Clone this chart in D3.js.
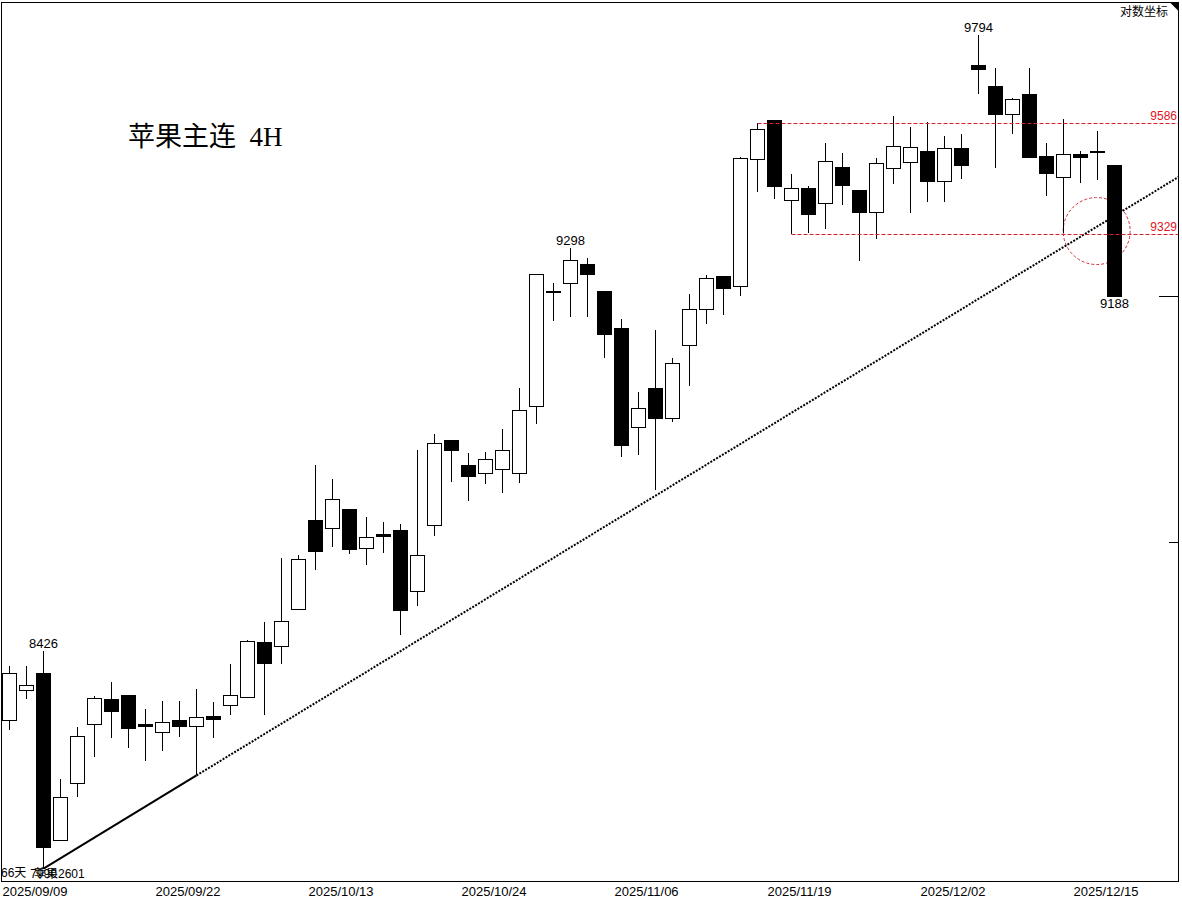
<!DOCTYPE html>
<html>
<head>
<meta charset="utf-8">
<script src="https://cdnjs.cloudflare.com/ajax/libs/d3/7.8.5/d3.min.js"></script>
<style>
  body { margin: 0; background: #fff; }
  svg { display: block; }
</style>
</head>
<body>
<script>
// 苹果主连 4H candles, one entry per bar (66 bars)
var opens  = [8285,8345,8381,8045,8158,8277,8326,8336,8277,8260,8285,8272,8293,8315,8331,8444,8436,8512,8700,8682,
              8723,8640,8670,8677,8549,8688,8870,8816,8800,8808,8800,8944,9200,9217,9261,9200,9117,8899,8984,8919,
              9079,9159,9232,9211,9501,9591,9406,9434,9400,9483,9430,9378,9480,9494,9520,9450,9527,9720,9671,9605,
              9652,9507,9459,9511,9520,9486];
var highs  = [8396,8396,8426,8167,8272,8334,8362,8336,8307,8324,8324,8348,8322,8400,8449,8487,8620,8626,8818,8788,
              8723,8706,8696,8691,8850,8884,8870,8843,8845,8896,8984,9238,9218,9298,9275,9200,9137,8976,9113,9051,
              9194,9236,9235,9506,9586,9591,9467,9440,9539,9516,9430,9504,9603,9577,9587,9556,9560,9794,9716,9644,
              9716,9539,9596,9520,9567,9486];
var lows   = [8266,8328,7990,8045,8131,8211,8249,8229,8203,8223,8251,8174,8249,8296,8331,8296,8400,8512,8594,8643,
              8629,8606,8631,8460,8520,8667,8782,8740,8777,8758,8778,8906,9134,9141,9141,9052,8834,8839,8764,8910,
              8990,9126,9147,9188,9426,9410,9329,9332,9340,9396,9269,9317,9445,9378,9403,9403,9456,9653,9480,9559,
              9505,9417,9331,9446,9453,9188];
var closes = [8380,8356,8031,8130,8252,8329,8302,8268,8272,8281,8272,8291,8287,8335,8446,8400,8487,8617,8633,8744,
              8637,8663,8665,8509,8625,8865,8848,8793,8830,8849,8936,9238,9197,9268,9237,9104,8859,8941,8919,9040,
              9159,9229,9207,9504,9571,9438,9434,9374,9497,9440,9378,9492,9531,9529,9450,9527,9486,9712,9605,9640,
              9505,9467,9511,9505,9516,9188];

var tickIdx    = [0, 9, 18, 27, 36, 45, 54, 63];
var tickLabels = ["2025/09/09","2025/09/22","2025/10/13","2025/10/24","2025/11/06","2025/11/19","2025/12/02","2025/12/15"];

// labelled extremes: [bar index, price]
var highLabels = [[2, 8426], [33, 9298], [57, 9794]];
var lowLabels  = [[65, 9188]];
// box lines: [start bar, price]
var boxLines   = [[44, 9586], [46, 9329]];
// trend line anchors: [bar index, price]
var trendPts   = [[2, 7990], [11, 8174]];
// dashed circle centre: [bar index, price]
var ringAt     = [63.95, 9336];
var sideMarks  = [9188, 8654];

var width = 1182, height = 899;
var L = 1.5, R = 1178.5, T = 2.5, B = 881.5;

var svg = d3.select("body").append("svg")
    .attr("width", width)
    .attr("height", height)
    .style("font-family", "'Liberation Sans', Arial, sans-serif");

svg.append("rect").attr("width", width).attr("height", height).attr("fill", "#fff");

var x = d3.scaleLinear().domain([0, 65]).range([9.5, 1114.5]);
var y = d3.scaleLog().domain([7966, 9873]).range([881, 2]);

var bars = d3.range(opens.length).map(function(i) {
  return {i: i, o: opens[i], h: highs[i], l: lows[i], c: closes[i]};
});

// dashed ring (sits behind the candles)
svg.append("circle")
    .attr("cx", x(ringAt[0]))
    .attr("cy", y(ringAt[1]))
    .attr("r", 33.5)
    .attr("fill", "none")
    .attr("stroke", "#c8323c")
    .attr("stroke-width", 1)
    .attr("stroke-dasharray", "3,2");

var plot = svg.append("g");

// wicks
plot.selectAll(".wick")
    .data(bars)
  .enter().append("line")
    .attr("class", "wick")
    .attr("x1", function(d) { return x(d.i); })
    .attr("x2", function(d) { return x(d.i); })
    .attr("y1", function(d) { return y(d.h); })
    .attr("y2", function(d) { return y(d.l); })
    .attr("stroke", "#000")
    .attr("stroke-width", 1)
    .attr("shape-rendering", "crispEdges");

// bodies
plot.selectAll(".body")
    .data(bars)
  .enter().append("rect")
    .attr("class", "body")
    .attr("x", function(d) { return x(d.i) - 7; })
    .attr("width", 14)
    .attr("y", function(d) { return y(Math.max(d.o, d.c)); })
    .attr("height", function(d) { return Math.max(1, Math.abs(y(d.o) - y(d.c))); })
    .attr("fill", function(d) { return d.c < d.o ? "#000" : "#fff"; })
    .attr("stroke", "#000")
    .attr("stroke-width", 1)
    .attr("shape-rendering", "crispEdges");

// trend line: solid between anchors, dotted extension to the right edge
var lnSlope = (Math.log(trendPts[1][1]) - Math.log(trendPts[0][1])) / (trendPts[1][0] - trendPts[0][0]);
var endIdx = x.invert(R);
var endPrice = trendPts[1][1] * Math.exp(lnSlope * (endIdx - trendPts[1][0]));

plot.append("line")
    .attr("x1", x(trendPts[0][0])).attr("y1", y(trendPts[0][1]))
    .attr("x2", x(trendPts[1][0])).attr("y2", y(trendPts[1][1]))
    .attr("stroke", "#000")
    .attr("stroke-width", 2);

plot.append("line")
    .attr("x1", x(trendPts[1][0])).attr("y1", y(trendPts[1][1]))
    .attr("x2", R).attr("y2", y(endPrice))
    .attr("stroke", "#000")
    .attr("stroke-width", 2)
    .attr("stroke-dasharray", "2,1.4");

// red box lines
var box = svg.append("g");
box.selectAll("line")
    .data(boxLines)
  .enter().append("line")
    .attr("x1", function(d) { return x(d[0]); })
    .attr("x2", R)
    .attr("y1", function(d) { return Math.round(y(d[1])) + 0.5; })
    .attr("y2", function(d) { return Math.round(y(d[1])) + 0.5; })
    .attr("stroke", "#d42230")
    .attr("stroke-width", 1)
    .attr("stroke-dasharray", "4,2");

box.selectAll("text")
    .data(boxLines)
  .enter().append("text")
    .attr("x", 1177)
    .attr("y", function(d) { return y(d[1]) - 3; })
    .attr("text-anchor", "end")
    .attr("font-size", 12)
    .attr("fill", "#e0141e")
    .text(function(d) { return d[1]; });

// extreme labels
svg.selectAll(".hilab")
    .data(highLabels)
  .enter().append("text")
    .attr("class", "hilab")
    .attr("x", function(d) { return x(d[0]); })
    .attr("y", function(d) { return y(d[1]) - 3; })
    .attr("text-anchor", "middle")
    .attr("font-size", 13)
    .text(function(d) { return d[1]; });

svg.selectAll(".lolab")
    .data(lowLabels)
  .enter().append("text")
    .attr("class", "lolab")
    .attr("x", function(d) { return x(d[0]); })
    .attr("y", function(d) { return y(d[1]) + 12; })
    .attr("text-anchor", "middle")
    .attr("font-size", 13)
    .text(function(d) { return d[1]; });

// right side marks
svg.selectAll(".side")
    .data(sideMarks)
  .enter().append("line")
    .attr("x1", function(d, i) { return i === 0 ? 1159 : 1169; })
    .attr("x2", R)
    .attr("y1", function(d) { return Math.round(y(d)) + 0.5; })
    .attr("y2", function(d) { return Math.round(y(d)) + 0.5; })
    .attr("stroke", "#000");

// title
svg.append("text")
    .attr("x", 128)
    .attr("y", 146)
    .attr("font-size", 27)
    .style("font-family", "'Liberation Serif', 'DejaVu Serif', 'Noto Sans CJK SC', serif")
    .style("white-space", "pre")
    .text("苹果主连  4H");

// top right
svg.append("text")
    .attr("x", 1168)
    .attr("y", 16)
    .attr("text-anchor", "end")
    .attr("font-size", 12)
    .style("font-family", "'Noto Sans CJK SC', sans-serif")
    .text("对数坐标");

svg.append("path")
    .attr("d", "M1170," + T + "L" + R + "," + T + "L" + R + ",11Z")
    .attr("fill", "#000");

// bottom-left info (overlapping as in the source terminal)
svg.append("text")
    .attr("x", 1).attr("y", 877)
    .attr("font-size", 12)
    .style("font-family", "'Liberation Sans', 'Noto Sans CJK SC', sans-serif")
    .text("66天");
svg.append("text")
    .attr("x", x(2)).attr("y", 878)
    .attr("text-anchor", "middle")
    .attr("font-size", 12)
    .text(lows[2]);
svg.append("text")
    .attr("x", 34).attr("y", 878)
    .attr("font-size", 12)
    .style("font-family", "'Liberation Sans', 'Noto Sans CJK SC', sans-serif")
    .text("苹果2601");

// date axis
var xAxis = d3.axisBottom(x)
    .tickValues(tickIdx)
    .tickFormat(function(d, i) { return tickLabels[i]; })
    .tickSize(0)
    .tickPadding(6);

svg.append("g")
    .attr("transform", "translate(0," + 881 + ")")
    .call(xAxis)
    .call(function(g) { g.select(".domain").remove(); })
    .selectAll("text")
    .attr("text-anchor", "start")
    .attr("x", -7.5)
    .attr("font-size", 13)
    .attr("font-family", "'Liberation Sans', Arial, sans-serif")
    .attr("fill", "#000");

// frame
svg.append("rect")
    .attr("x", L).attr("y", T)
    .attr("width", R - L).attr("height", B - T)
    .attr("fill", "none")
    .attr("stroke", "#000")
    .attr("stroke-width", 1);
</script>
</body>
</html>
